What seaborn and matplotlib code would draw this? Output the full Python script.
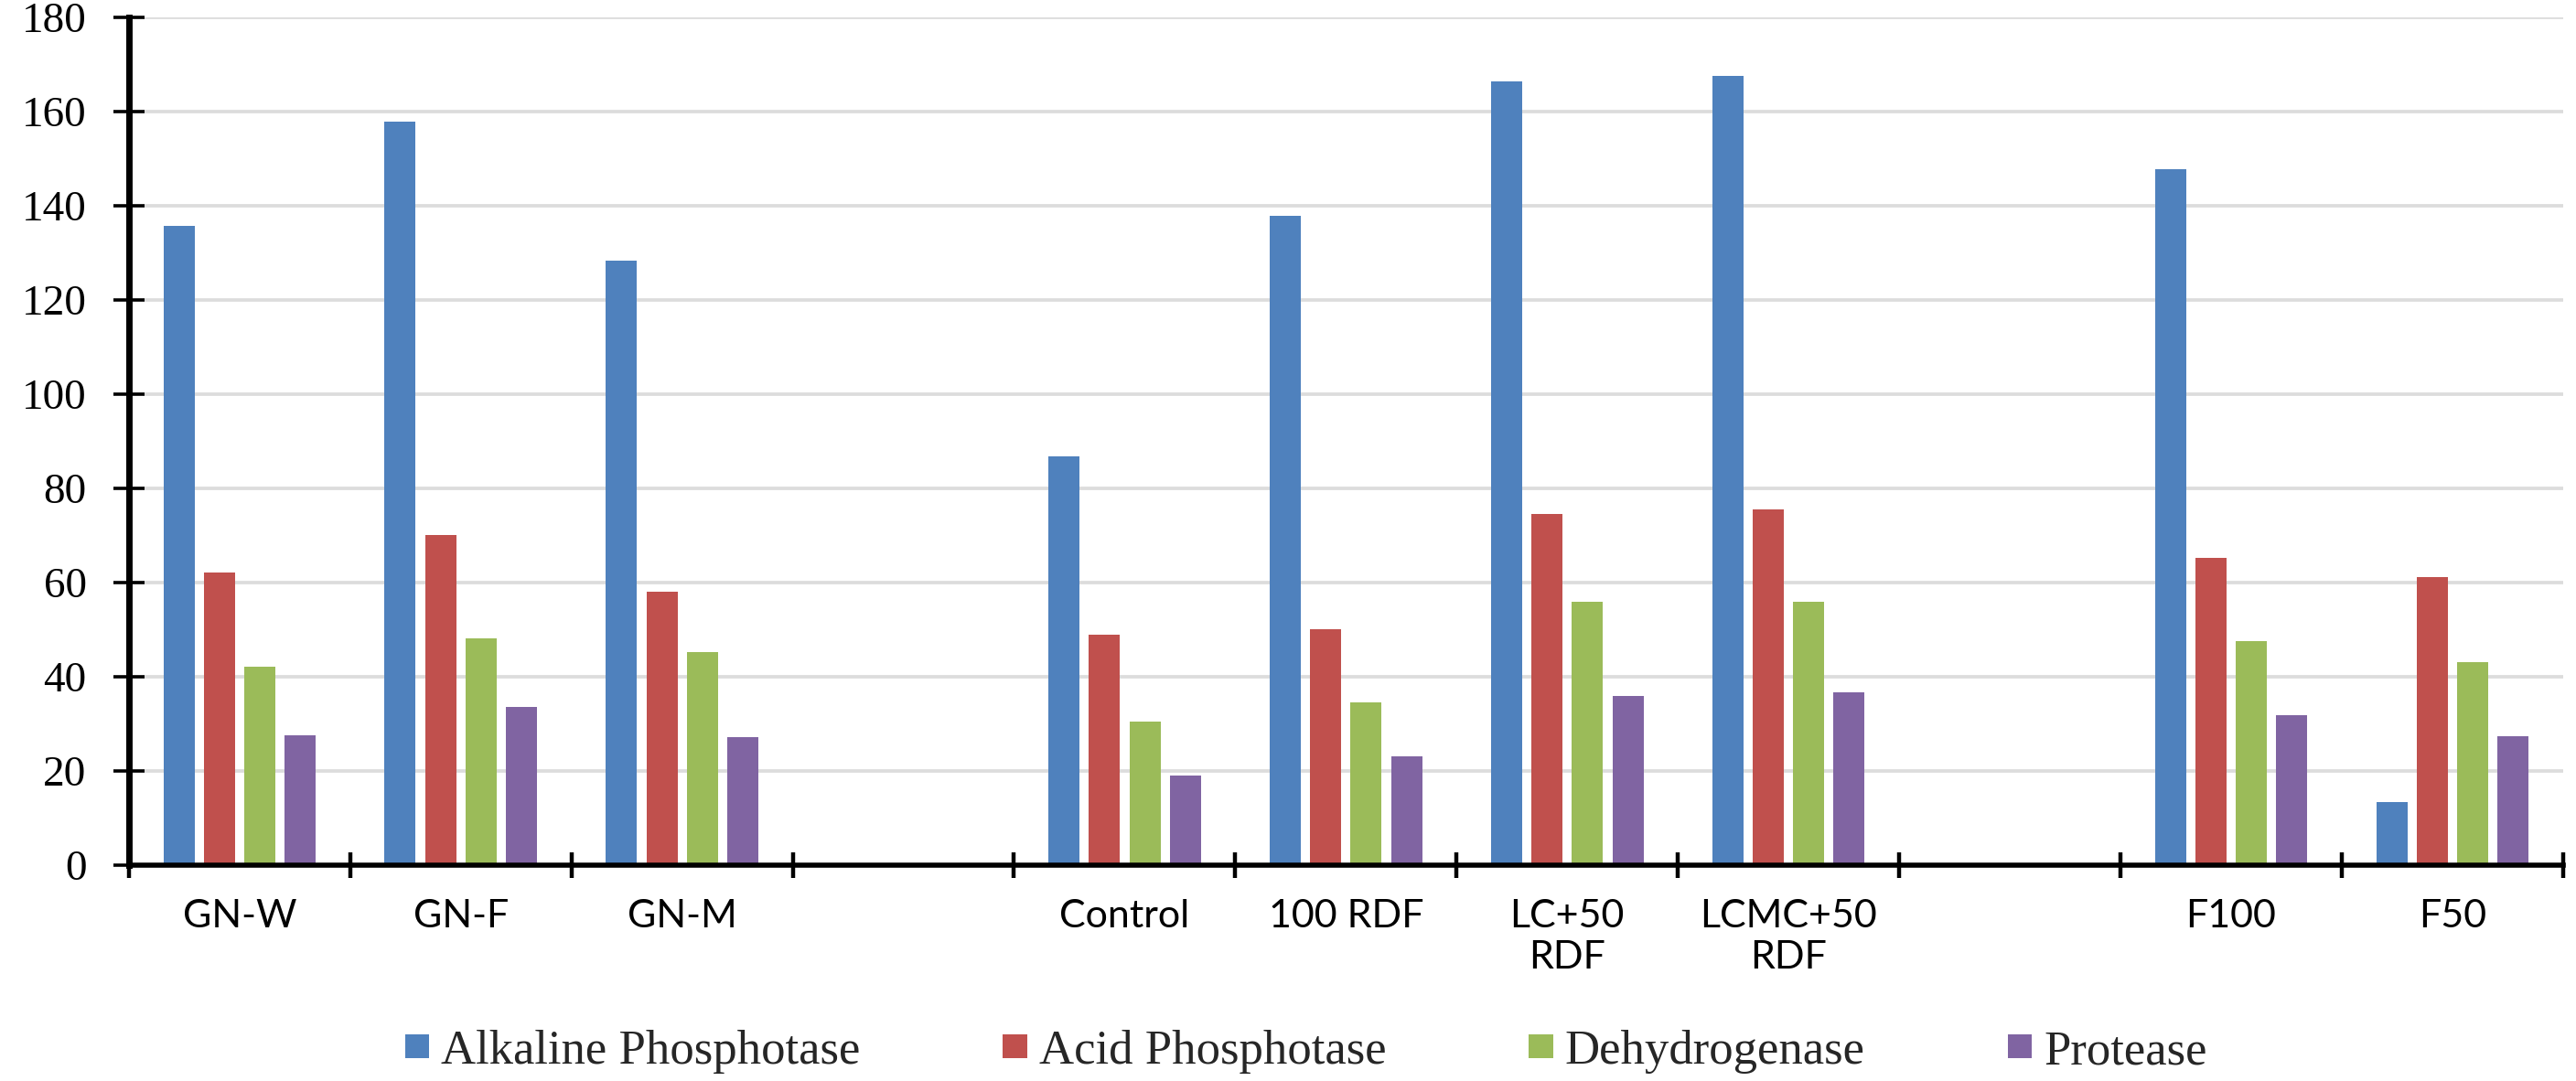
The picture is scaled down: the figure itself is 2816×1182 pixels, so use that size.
import numpy as np
import pandas as pd
import matplotlib
matplotlib.use("Agg")
import matplotlib.pyplot as plt
import seaborn as sns

# ---- data ----
treatments = ["GN-W", "GN-F", "GN-M", "Control", "100 RDF",
              "LC+50\nRDF", "LCMC+50\nRDF", "F100", "F50"]
# category slots on the axis (two empty slots act as group separators)
slot_order = ["GN-W", "GN-F", "GN-M", " ", "Control", "100 RDF",
              "LC+50\nRDF", "LCMC+50\nRDF", "  ", "F100", "F50"]
enzymes = ["Alkaline Phosphotase", "Acid Phosphotase", "Dehydrogenase", "Protease"]
alkaline = [135.8, 157.8, 128.3, 86.7, 137.8, 166.3, 167.6, 147.8, 13.3]
acid = [62.2, 70.0, 58.1, 49.0, 50.0, 74.6, 75.5, 65.2, 61.2]
dehydrogenase = [42.2, 48.1, 45.3, 30.4, 34.5, 55.9, 55.9, 47.6, 43.1]
protease = [27.6, 33.5, 27.2, 19.0, 23.1, 35.9, 36.7, 31.8, 27.3]
colors = ["#4F81BD", "#C0504D", "#9BBB59", "#8064A2"]
yticks = list(range(0, 181, 20))

df = pd.DataFrame({
    "Treatment": treatments * 4,
    "Enzyme": np.repeat(enzymes, len(treatments)),
    "Activity": alkaline + acid + dehydrogenase + protease,
})

# ---- figure ----
sns.set_style("white")
plt.rcParams["font.family"] = ["Liberation Serif", "DejaVu Serif"]

fig = plt.figure(figsize=(28.16, 11.82), dpi=100)
ax = fig.add_axes([0.050, 0.1997, 0.945, 0.7843])

sns.barplot(data=df, x="Treatment", y="Activity", hue="Enzyme",
            order=slot_order, hue_order=enzymes, palette=colors,
            saturation=1, width=0.73, gap=0.23, errorbar=None,
            linewidth=0, ax=ax, legend=True)

ax.set_xlim(-0.5, len(slot_order) - 0.5)
ax.set_ylim(0, 180)
ax.set_yticks(yticks)
ax.set_yticklabels([str(t) for t in yticks], fontsize=34,
                   family=["Liberation Serif", "DejaVu Serif"])
ax.set_xlabel("")
ax.set_ylabel("")

# x labels centred in the slots, tick marks at the slot boundaries
ax.set_xticks(range(len(slot_order)))
ax.set_xticklabels(slot_order, fontsize=31, family=["Lato", "DejaVu Sans"],
                   linespacing=1.2)
ax.set_xticks(np.arange(-0.5, len(slot_order)), minor=True)
ax.tick_params(axis="x", which="major", bottom=True, length=0, pad=27,
               colors="black")
ax.tick_params(axis="x", which="minor", bottom=True, direction="inout",
               length=19.5, width=3.2, color="black")
ax.tick_params(axis="y", which="major", left=True, direction="inout",
               length=24.5, width=2.6, pad=21, colors="black")

for s in ["top", "right"]:
    ax.spines[s].set_visible(False)
ax.spines["left"].set_linewidth(5)
ax.spines["bottom"].set_linewidth(4)
ax.spines["left"].set_color("black")
ax.spines["bottom"].set_color("black")

ax.yaxis.grid(True, color="#dcdcdc", linewidth=2.7)
ax.xaxis.grid(False)
ax.set_axisbelow(True)

handles, labels = ax.get_legend_handles_labels()
ax.get_legend().remove()
fig.legend(handles, labels, loc="center", bbox_to_anchor=(0.507, 0.027),
           bbox_transform=fig.transFigure, ncol=4, frameon=False,
           prop={"family": ["Liberation Serif", "DejaVu Serif"], "size": 38},
           handlelength=0.5, handleheight=0.38, handletextpad=0.25,
           columnspacing=2.95)

fig.savefig("out.png", dpi=100)
